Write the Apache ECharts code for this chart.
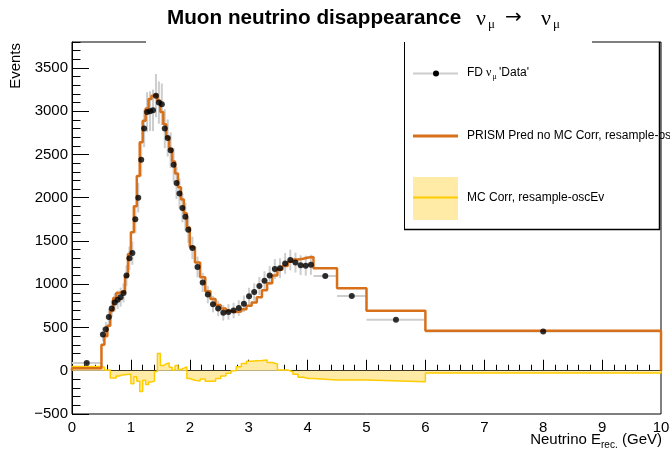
<!DOCTYPE html>
<html lang="en">
<head>
<meta charset="UTF-8">
<title>Muon neutrino disappearance</title>
<script src="https://cdn.jsdelivr.net/npm/echarts@6/dist/echarts.min.js"></script>
<style>
  html, body { margin: 0; padding: 0; background: #fff; }
  #chart { width: 670px; height: 449px; }
</style>
</head>
<body>
<div id="chart"></div>
<script>
// bin edges in GeV (variable binning)
var binEdges = [0, 0.5, 0.55, 0.6, 0.65, 0.7, 0.75, 0.8, 0.85, 0.9, 0.95,
    1.0, 1.05, 1.1, 1.15, 1.2, 1.25, 1.3, 1.35, 1.4, 1.45,
    1.5, 1.55, 1.6, 1.65, 1.7, 1.75, 1.8, 1.85, 1.9, 1.95,
    2.0, 2.0875, 2.175, 2.2625, 2.35, 2.4375, 2.525, 2.6125, 2.7, 2.7875,
    2.875, 2.9625, 3.05, 3.1375, 3.225, 3.3125, 3.4, 3.4875, 3.575, 3.6625,
    3.75, 3.8375, 3.925, 4.0125, 4.1, 4.5, 5, 6, 10];

// PRISM prediction, no MC correction
var predVals = [30,
    300, 400, 520, 690, 840, 900, 910, 900, 1090, 1350,
    1600, 1900, 2250, 2640, 2890, 3030, 3140, 3180, 3190, 3120,
    2990, 2850, 2700, 2560, 2420, 2280, 2120, 1980, 1820, 1660,
    1430, 1250, 1080, 920, 830, 760, 720, 690, 680, 685,
    710, 750, 790, 850, 930, 1010, 1100, 1170, 1210, 1260,
    1285, 1295, 1310, 1315,
    1184, 953, 694, 463];

// FD numu 'Data'
var dataVals = [90,
    420, 480, 620, 720, 790, 820, 850, 900, 1100, 1300,
    1360, 1750, 2000, 2440, 2800, 2990, 3000, 3010, 3180, 3100,
    3080, 2800, 2690, 2550, 2380, 2170, 2050, 1880, 1780, 1630,
    1420, 1200, 1020, 880, 770, 720, 670, 680, 695, 725,
    775, 860, 910, 980, 1040, 1100, 1175, 1185, 1240, 1280,
    1250, 1220, 1215, 1225,
    1095, 864, 590, 455];

var dataErr = [15,
    80, 85, 95, 100, 105, 105, 110, 110, 120, 135,
    135, 160, 170, 195, 215, 230, 230, 240, 250, 245,
    240, 225, 215, 205, 195, 185, 175, 165, 160, 150,
    130, 120, 110, 100, 95, 90, 90, 90, 90, 90,
    95, 100, 100, 105, 110, 110, 115, 115, 120, 120,
    115, 115, 115, 115,
    25, 20, 15, 10];

// MC correction
var corrVals = [50,
    40, 10, 10, -85, -85, -60, -50, -45, -40, -40,
    -150, -70, -120, -240, -110, -160, -130, -120, -10, 200,
    60, 80, 90, 40, 10, 60, 15, 30, 45, -90,
    -110, -120, -95, -120, -120, -90, -60, -30, 0, 45,
    85, 110, 115, 118, 125, 95, 78, 10, 8, -12,
    -40, -75, -90, -90,
    -108, -108, -127, -25];

var yMin = -500, yMax = 3800;

var sans = '"Liberation Sans", Arial, sans-serif';
var serif = '"Liberation Serif", "DejaVu Serif", serif';

function stepPoints(vals) {
    var n = vals.length;
    var pts = [[binEdges[0], 0]];
    for (var i = 0; i < n; i++) pts.push([binEdges[i], vals[i]]);
    pts.push([binEdges[n], vals[n - 1]]);
    pts.push([binEdges[n], 0]);
    return pts;
}

var dataPts = dataVals.map(function (v, i) {
    var lo = binEdges[i], hi = binEdges[i + 1];
    return [(lo + hi) / 2, v, dataErr[i], (hi - lo) / 2];
});

function txt(x, y, s, font, align, extra) {
    var el = {
        type: 'text', x: x, y: y, z: 100,
        style: { text: s, font: font, fill: '#000', textAlign: align || 'left', textVerticalAlign: 'middle' }
    };
    if (extra) for (var k in extra) el[k] = extra[k];
    return el;
}
function seg(x1, y1, x2, y2, color, w) {
    return { type: 'line', z: 90, shape: { x1: x1, y1: y1, x2: x2, y2: y2 },
        style: { stroke: color, lineWidth: w } };
}

var chart = echarts.init(document.getElementById('chart'));
var option = {
    animation: false,
    backgroundColor: '#fff',
    grid: { left: 72, right: 9, top: 42, bottom: 35, outerBoundsMode: 'none',
        show: true, borderColor: '#000', borderWidth: 1, backgroundColor: 'transparent' },
    xAxis: {
        type: 'value', min: 0, max: 10, interval: 1,
        axisLine: { lineStyle: { color: '#000', width: 1 } },
        axisTick: { inside: true, length: 11, lineStyle: { color: '#000' } },
        minorTick: { show: true, splitNumber: 5, length: 6, lineStyle: { color: '#000' } },
        axisLabel: { color: '#000', fontSize: 15, fontFamily: sans, margin: 6 },
        splitLine: { show: false }
    },
    yAxis: [{
        type: 'value', min: yMin, max: yMax, interval: 500,
        axisLine: { show: true, lineStyle: { color: '#000', width: 1 } },
        axisTick: { inside: true, length: 17, lineStyle: { color: '#000' } },
        axisLabel: {
            color: '#000', fontSize: 15, fontFamily: sans, margin: 4, showMaxLabel: false,
            formatter: function (v) { return v < 0 ? '\u2212' + (-v) : '' + v; }
        },
        splitLine: { show: false }
    }, {
        type: 'value', min: yMin, max: yMax, interval: 100, position: 'left',
        axisLine: { show: false },
        axisTick: { inside: true, length: 8.5, lineStyle: { color: '#000' } },
        axisLabel: { show: false },
        splitLine: { show: false }
    }],
    series: [{
        type: 'custom',
        z: 1,
        clip: true,
        data: dataPts,
        renderItem: function (params, api) {
            var x = api.value(0), y = api.value(1), e = api.value(2), hw = api.value(3);
            var c = api.coord([x, y]);
            var top = api.coord([x, y + e]);
            var bot = api.coord([x, y - e]);
            var l = api.coord([x - hw, y]);
            var r = api.coord([x + hw, y]);
            var st = { stroke: '#cdcdcd', lineWidth: 2 };
            return { type: 'group', children: [
                { type: 'line', shape: { x1: c[0], y1: top[1], x2: c[0], y2: bot[1] }, style: st },
                { type: 'line', shape: { x1: l[0], y1: c[1], x2: r[0], y2: c[1] }, style: st }
            ] };
        }
    }, {
        type: 'line',
        z: 2,
        step: 'end',
        symbol: 'none',
        clip: true,
        data: stepPoints(corrVals),
        lineStyle: { color: '#ffcc00', width: 1.5 },
        areaStyle: { color: '#ffeba5', opacity: 1 }
    }, {
        type: 'line',
        z: 3,
        step: 'end',
        symbol: 'none',
        clip: true,
        data: stepPoints(predVals),
        lineStyle: { color: '#d8701a', width: 2.5 }
    }, {
        type: 'scatter',
        z: 4,
        symbol: 'circle',
        symbolSize: 6,
        itemStyle: { color: '#000' },
        data: dataPts.map(function (p) { return [p[0], p[1]]; })
    }],
    graphic: [
        // title pad hides the frame top behind it
        { type: 'rect', z: 80, shape: { x: 146, y: 0, width: 446, height: 43 }, style: { fill: '#fff' } },
        // legend box
        seg(404.5, 42, 404.5, 229.5, '#000', 1),
        seg(404, 229.5, 660, 229.5, '#000', 1.5),
        seg(659.5, 42, 659.5, 230, '#000', 1.5),
        // legend entries
        seg(413, 73.5, 458, 73.5, '#cdcdcd', 2),
        { type: 'circle', z: 95, shape: { cx: 436, cy: 73.5, r: 3 }, style: { fill: '#000' } },
        txt(467, 73, 'FD', '12px ' + sans),
        txt(486, 73, '\u03bd', '12px ' + serif),
        txt(492.5, 77, '\u03bc', '8px ' + serif),
        txt(499, 73, "'Data'", '12px ' + sans),
        seg(413, 136, 458, 136, '#d8701a', 3),
        txt(467, 135.5, 'PRISM Pred no MC Corr, resample-oscEv', '12px ' + sans),
        { type: 'rect', z: 90, shape: { x: 413, y: 177, width: 45, height: 43 }, style: { fill: '#ffeba5' } },
        seg(413, 197.5, 458, 197.5, '#ffcc00', 2),
        txt(467, 197.5, 'MC Corr, resample-oscEv', '12px ' + sans),
        // title
        txt(167, 18, 'Muon neutrino disappearance', 'bold 20.7px ' + sans),
        txt(476, 19, '\u03bd', '22px ' + serif),
        txt(488, 25, '\u03bc', '13px ' + serif),
        txt(505, 18, '\u2192', '20px "DejaVu Sans", sans-serif'),
        txt(541, 19, '\u03bd', '22px ' + serif),
        txt(553, 25, '\u03bc', '13px ' + serif),
        // axis titles
        txt(16, 43, 'Events', '15px ' + sans, 'right', { rotation: Math.PI / 2 }),
        txt(601, 440, 'Neutrino E', '15px ' + sans, 'right'),
        txt(601, 445, 'rec.', '10px ' + sans),
        txt(662, 440, '(GeV)', '15px ' + sans, 'right')
    ]
};
chart.setOption(option);
</script>
</body>
</html>
